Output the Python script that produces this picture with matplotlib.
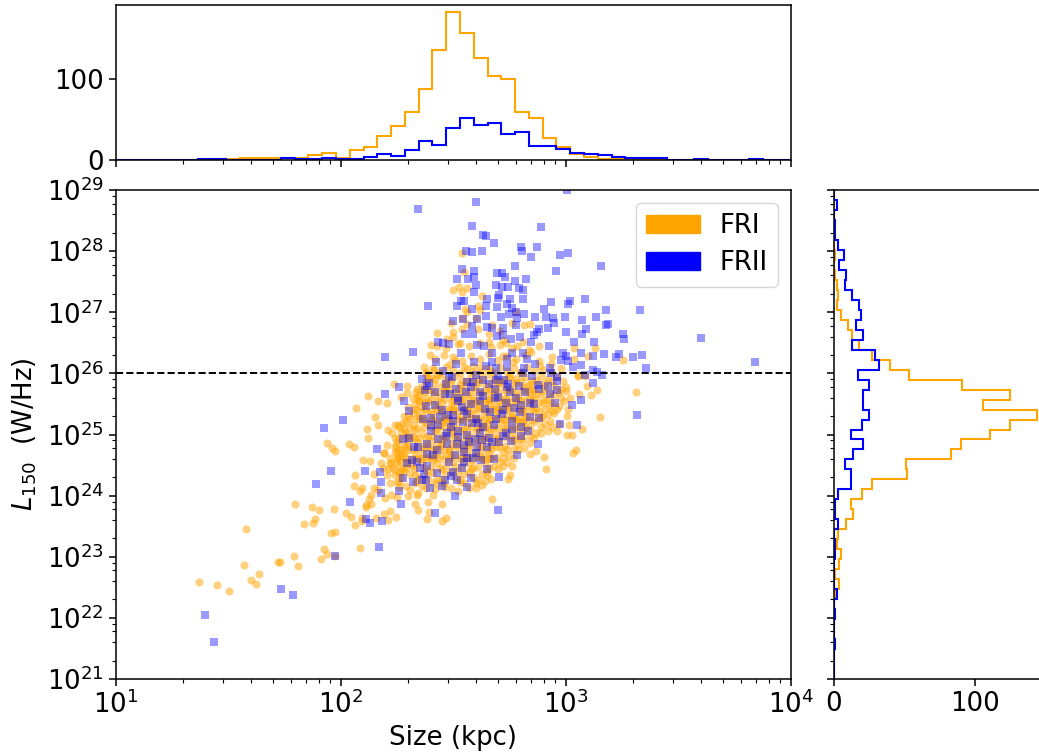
import numpy as np
import matplotlib
matplotlib.use("Agg")
import matplotlib.pyplot as plt
from matplotlib.ticker import LogLocator, NullFormatter

# histogram counts, 49 log bins over each axis
size_counts_fri = [0,0,0,0,0,0,0,1,1,3,2,2,2,3,6,9,3,12,16,29,42,59,87,136,182,157,126,104,100,59,52,27,16,8,4,1,1,1,1,0,0,0,0,0,0,0,0,0,0]
size_counts_frii = [0,0,0,0,0,0,1,1,0,0,0,0,2,1,1,3,1,1,4,8,5,12,24,19,40,52,43,45,32,35,17,17,14,9,7,6,4,3,3,3,0,0,1,0,0,0,1,0,0]

# listed from 1e29 down to 1e21
lum_counts_fri = [0,0,0,0,0,0,1,0,1,2,3,2,5,10,13,18,27,40,53,91,125,106,144,125,111,90,83,51,52,27,20,12,14,9,3,2,5,4,1,4,1,0,0,0,0,0,0,0,0]
lum_counts_frii = [0,2,0,1,1,3,7,4,9,8,13,18,19,16,21,13,29,32,17,25,21,21,25,20,12,21,14,8,12,12,3,1,1,3,0,1,1,0,0,0,2,0,1,0,0,1,0,0,0]

# log10(size/kpc), log10(L150)
fri_tail = [(1.372,22.58),(1.451,22.54),(1.506,22.44),(1.580,23.45),(1.571,22.87),(1.602,22.62),(1.626,22.55),(1.638,22.72),(1.721,22.92),(1.732,22.91),(1.795,23.02),(1.809,22.85),(1.798,23.87),(1.873,23.82),(1.903,23.77),(1.969,23.78),(1.839,23.53),(1.879,23.56),(1.885,23.61),(1.956,23.39),(1.977,23.40),(1.925,23.13),(1.940,23.05),(1.915,22.97),(1.974,23.01),(2.088,23.14),(2.023,23.72),(2.048,23.65),(2.063,23.52),(2.094,23.58),(2.094,23.64),(2.158,23.64),(2.192,23.70),(2.211,23.60),(2.220,23.75),(2.246,23.65),(2.115,23.81),(2.112,23.85),(2.137,23.86),(2.126,23.94),(2.135,24.01),(2.085,24.07),(2.094,24.13),(2.058,24.16),(2.066,24.33),(2.149,24.35),(2.147,24.13),(2.168,24.09),(2.198,23.96),(2.224,24.01),(2.249,23.98),(2.100,24.58),(2.131,24.56),(2.180,24.53),(2.226,24.53),(2.208,24.83),(2.245,24.83),(2.193,24.69),(2.192,24.70),(2.249,24.69),(2.254,24.61),(2.036,24.85),(2.061,24.80),(1.940,24.86),(1.961,24.78),(1.977,24.73),(2.123,24.95),(2.116,25.09),(2.166,25.16),(2.155,25.29),(2.067,25.44),(2.166,25.54),(2.206,25.52),(2.212,25.07),(2.230,25.02),(2.241,25.15),(2.257,25.15),(2.279,25.19),(2.286,25.04),(2.187,24.45),(2.212,24.43),(2.205,24.34),(2.220,24.20),(2.264,24.39),(2.279,24.45)]

fri_upper = [(2.538,27.97),(2.548,27.66),(2.501,27.36),(2.527,27.41),(2.538,27.33),(2.560,27.39),(2.630,27.27),(2.612,27.11),(2.553,27.06),(2.560,27.01),(2.619,27.04),(2.779,27.01),(2.490,26.83),(2.538,26.90),(2.604,26.90),(2.675,26.79),(2.816,26.79),(2.843,26.81),(2.541,26.72),(2.428,26.66),(2.501,26.60),(2.471,26.57),(2.400,26.46),(2.430,26.45),(2.397,26.30),(2.530,26.49),(2.659,26.51),(2.723,26.55),(2.733,26.50),(2.785,26.45),(2.837,26.38),(2.846,26.35),(3.038,26.41),(3.132,26.41),(3.098,26.28),(3.038,26.24),(3.256,26.22),(2.372,26.10),(2.416,26.05),(2.486,26.16),(2.508,26.22),(2.548,26.11),(2.723,26.28),(2.767,26.19),(2.886,26.12),(2.936,26.15),(2.379,25.99),(2.427,25.97),(2.590,26.03),(2.619,26.11),(2.664,26.05),(2.753,25.94),(2.797,26.01),(3.056,25.97),(3.086,25.96),
    (2.38,26.03),(2.41,26.08),(2.44,26.02),(2.47,26.10),(2.50,26.05),(2.53,26.00),(2.56,26.07),(2.59,26.12),(2.62,26.02),(2.65,26.09),(2.68,26.03),(2.71,26.11),(2.74,26.04),(2.77,26.08),(2.80,26.02),(2.83,26.10),(2.86,26.04),(2.90,26.06),(2.94,26.02),(2.98,26.08),
    (2.42,26.24),(2.46,26.30),(2.50,26.26),(2.54,26.21),(2.58,26.29),(2.62,26.23),(2.66,26.31),(2.70,26.22),(2.74,26.28),(2.78,26.24),(2.82,26.30),(2.88,26.21),(2.94,26.27),
    (2.47,26.42),(2.52,26.48),(2.57,26.44),(2.62,26.50),(2.67,26.43),(2.71,26.47),(2.76,26.42),(2.81,26.52),(2.88,26.45),
    (2.50,26.68),(2.56,26.80),(2.61,26.72),(2.66,26.65),(2.71,26.70),(2.76,26.83)]

fri_edge = [(2.237,25.82),(2.293,25.79),(2.121,25.63),(2.267,25.62),(2.293,25.68),(2.333,25.69),(2.338,25.62),(2.264,24.58),(2.299,23.99),(2.345,24.05),(2.338,24.01),(2.410,24.01),(2.390,23.90),(2.450,23.87),(2.330,23.87),(2.345,23.77),(2.394,23.74),(2.470,23.64),(2.449,23.59),(2.382,23.62),(2.674,23.94),(2.643,24.24),(2.754,24.33),(2.742,24.27),(2.761,24.48),(2.723,24.48),(2.911,24.44),(2.904,24.64),(3.031,24.70),(3.046,24.74),(2.841,24.68),(2.870,24.73),(2.815,24.78),(3.154,25.28),(3.311,25.69),(3.113,25.64),(3.139,25.73),(3.095,25.80),(3.061,25.66),(3.053,25.96),(3.004,25.71),(2.991,25.54),(3.009,25.42),(3.007,25.31),(2.938,25.39),(2.921,25.05),(2.960,25.06),(2.972,25.17),(3.007,24.99),(3.030,24.99),(3.016,25.15),(3.071,25.09)]

# the solid orange blob, individual points can't be separated there so these are estimates
fri_core = [(2.40,25.93),(2.44,25.98),(2.47,25.91),(2.51,25.96),(2.54,25.89),(2.58,25.95),(2.61,25.90),(2.65,25.97),(2.68,25.92),(2.71,25.88),(2.75,25.96),(2.78,25.90),(2.82,25.94),(2.85,25.87),(2.89,25.95),(2.92,25.90),
    (2.36,25.80),(2.39,25.75),(2.42,25.83),(2.45,25.78),(2.49,25.84),(2.52,25.76),(2.55,25.81),(2.59,25.77),(2.62,25.84),(2.65,25.79),(2.69,25.74),(2.72,25.82),(2.75,25.76),(2.78,25.85),(2.81,25.78),(2.85,25.74),(2.88,25.83),(2.91,25.77),(2.95,25.80),(2.98,25.74),
    (2.35,25.64),(2.38,25.60),(2.41,25.67),(2.44,25.61),(2.47,25.69),(2.50,25.63),(2.53,25.58),(2.56,25.66),(2.59,25.61),(2.62,25.68),(2.65,25.57),(2.68,25.65),(2.71,25.60),(2.74,25.68),(2.77,25.62),(2.80,25.57),(2.83,25.66),(2.86,25.60),(2.89,25.67),(2.92,25.58),(2.95,25.64),
    (2.33,25.50),(2.36,25.45),(2.39,25.53),(2.42,25.47),(2.45,25.52),(2.48,25.44),(2.51,25.49),(2.54,25.53),(2.57,25.46),(2.60,25.51),(2.63,25.43),(2.66,25.50),(2.69,25.46),(2.72,25.53),(2.75,25.45),(2.78,25.51),(2.81,25.43),(2.84,25.49),(2.87,25.44),(2.90,25.51),(2.93,25.46),(2.96,25.41),
    (2.32,25.35),(2.35,25.31),(2.38,25.38),(2.41,25.33),(2.44,25.37),(2.47,25.29),(2.50,25.36),(2.53,25.30),(2.56,25.38),(2.59,25.33),(2.62,25.28),(2.65,25.35),(2.68,25.30),(2.71,25.38),(2.74,25.32),(2.77,25.27),(2.80,25.35),(2.83,25.30),(2.86,25.36),(2.89,25.29),(2.92,25.34),
    (2.29,25.20),(2.32,25.16),(2.35,25.23),(2.38,25.18),(2.41,25.22),(2.44,25.14),(2.47,25.20),(2.50,25.16),(2.53,25.23),(2.56,25.13),(2.59,25.21),(2.62,25.15),(2.65,25.19),(2.68,25.13),(2.71,25.21),(2.74,25.16),(2.77,25.12),(2.80,25.20),(2.83,25.15),(2.86,25.21),(2.89,25.13),
    (2.27,25.04),(2.30,25.00),(2.33,25.07),(2.36,25.02),(2.39,24.98),(2.42,25.05),(2.45,25.00),(2.48,25.07),(2.51,24.99),(2.54,25.05),(2.57,25.00),(2.60,25.06),(2.63,24.98),(2.66,25.04),(2.69,24.99),(2.72,25.06),(2.75,25.00),(2.78,24.97),(2.81,25.04),(2.84,24.98),(2.87,25.03),
    (2.25,24.90),(2.28,24.85),(2.31,24.92),(2.34,24.87),(2.37,24.83),(2.40,24.90),(2.43,24.85),(2.46,24.91),(2.49,24.84),(2.52,24.89),(2.55,24.82),(2.58,24.88),(2.61,24.84),(2.64,24.91),(2.67,24.83),(2.70,24.88),(2.73,24.82),(2.76,24.89),(2.79,24.84),
    (2.24,24.72),(2.27,24.67),(2.30,24.74),(2.33,24.68),(2.36,24.72),(2.39,24.65),(2.42,24.71),(2.45,24.66),(2.48,24.73),(2.51,24.67),(2.54,24.71),(2.57,24.65),(2.60,24.72),(2.63,24.66),(2.66,24.70),(2.69,24.64),(2.72,24.71),(2.75,24.66),
    (2.22,24.53),(2.26,24.48),(2.29,24.55),(2.32,24.49),(2.36,24.53),(2.40,24.47),(2.43,24.54),(2.47,24.49),(2.50,24.55),(2.54,24.48),(2.57,24.53),(2.61,24.47),(2.64,24.54),(2.68,24.49),(2.71,24.55),
    (2.24,24.34),(2.27,24.29),(2.31,24.36),(2.35,24.30),(2.39,24.34),(2.43,24.28),(2.47,24.35),(2.51,24.30),(2.55,24.36),(2.59,24.30),(2.63,24.35),(2.67,24.28),
    (2.26,24.14),(2.31,24.09),(2.36,24.15),(2.42,24.11),(2.46,24.14),(2.52,24.08),(2.57,24.13),
    (2.46,25.72),(2.50,25.57),(2.55,25.42),(2.60,25.25),(2.64,25.72),(2.68,25.42),(2.72,25.26),(2.76,25.72),(2.80,25.42),(2.84,25.58),(2.48,25.27),(2.52,25.10),(2.58,25.56),(2.62,25.11),(2.66,25.58),(2.70,25.10),(2.74,25.56),(2.78,25.26),(2.82,25.10),(2.86,25.72),(2.44,25.43),(2.40,25.12),(2.36,25.28),(2.42,24.76),(2.38,24.95),(2.34,24.78),(2.46,24.77),(2.50,24.95),(2.55,24.76),(2.60,24.95),(2.65,24.77),(2.70,24.95),(2.74,24.76),(2.30,24.60),(2.35,24.60),(2.41,24.58),(2.46,24.60),(2.53,24.60),(2.59,24.58),(2.65,24.60)]

# second pass over the blob so it comes out solid like the reference
fri_core2 = [(2.38,25.88),(2.42,25.90),(2.46,25.85),(2.49,25.89),(2.53,25.83),(2.56,25.88),(2.60,25.85),(2.63,25.90),(2.67,25.84),(2.70,25.87),(2.73,25.91),(2.77,25.84),(2.80,25.88),(2.84,25.83),(2.87,25.89),(2.91,25.85),(2.94,25.87),
    (2.37,25.70),(2.40,25.73),(2.43,25.69),(2.48,25.74),(2.51,25.70),(2.54,25.73),(2.57,25.69),(2.60,25.72),(2.63,25.68),(2.67,25.73),(2.70,25.69),(2.73,25.72),(2.78,25.70),(2.81,25.73),(2.84,25.69),(2.87,25.66),(2.90,25.71),(2.93,25.68),(2.97,25.70),
    (2.35,25.55),(2.37,25.53),(2.40,25.57),(2.43,25.54),(2.46,25.58),(2.49,25.54),(2.52,25.55),(2.55,25.58),(2.58,25.52),(2.61,25.56),(2.64,25.53),(2.67,25.57),(2.70,25.54),(2.73,25.58),(2.76,25.53),(2.79,25.56),(2.82,25.54),(2.85,25.55),(2.88,25.53),(2.91,25.56),(2.94,25.52),
    (2.34,25.40),(2.37,25.42),(2.40,25.38),(2.43,25.41),(2.46,25.39),(2.49,25.42),(2.52,25.39),(2.55,25.41),(2.58,25.38),(2.61,25.42),(2.64,25.39),(2.67,25.41),(2.70,25.38),(2.73,25.42),(2.76,25.39),(2.79,25.41),(2.82,25.38),(2.85,25.41),(2.88,25.38),(2.91,25.41),
    (2.31,25.25),(2.34,25.27),(2.37,25.23),(2.40,25.26),(2.43,25.24),(2.46,25.26),(2.49,25.23),(2.52,25.26),(2.55,25.24),(2.58,25.27),(2.61,25.23),(2.64,25.26),(2.67,25.24),(2.70,25.27),(2.73,25.23),(2.76,25.26),(2.79,25.24),(2.82,25.27),(2.85,25.24),(2.88,25.25),
    (2.28,25.09),(2.31,25.11),(2.34,25.10),(2.37,25.12),(2.43,25.09),(2.46,25.12),(2.49,25.10),(2.55,25.09),(2.58,25.12),(2.61,25.09),(2.64,25.11),(2.67,25.09),(2.73,25.11),(2.76,25.08),(2.79,25.11),(2.84,25.09),
    (2.26,24.94),(2.29,24.96),(2.32,24.98),(2.35,24.94),(2.41,24.97),(2.44,24.93),(2.47,24.96),(2.53,24.94),(2.56,24.96),(2.62,24.93),(2.65,24.96),(2.68,24.93),(2.73,24.96),(2.77,24.93),(2.80,24.95),
    (2.26,24.77),(2.29,24.80),(2.32,24.76),(2.37,24.78),(2.40,24.76),(2.44,24.79),(2.48,24.77),(2.52,24.79),(2.57,24.77),(2.62,24.78),(2.67,24.76),(2.71,24.79),(2.77,24.76),
    (2.25,24.61),(2.28,24.63),(2.32,24.60),(2.38,24.61),(2.43,24.62),(2.49,24.63),(2.56,24.61),(2.62,24.63),(2.67,24.61),(2.72,24.62),
    (2.24,24.42),(2.28,24.40),(2.33,24.43),(2.38,24.41),(2.45,24.42),(2.52,24.41),(2.58,24.43),(2.65,24.41),(2.70,24.43),
    (2.26,24.22),(2.33,24.20),(2.40,24.23),(2.46,24.21),(2.53,24.22),(2.60,24.20),
    (2.47,25.80),(2.53,25.66),(2.58,25.86),(2.62,25.53),(2.66,25.68),(2.70,25.83),(2.74,25.47),(2.79,25.63),(2.83,25.79),(2.50,25.41),(2.56,25.29),(2.61,25.44),(2.66,25.25),(2.71,25.45),(2.76,25.31),(2.81,25.22),(2.45,25.22),(2.50,25.04),(2.56,24.90),(2.64,25.14)]

# lower half and flanks of the blob
fri_core3 = [(2.24,24.80),(2.27,24.75),(2.30,24.83),(2.33,24.95),(2.36,24.62),(2.39,24.82),(2.42,24.65),(2.45,24.85),(2.48,24.68),(2.51,24.82),(2.54,24.62),(2.57,24.83),(2.60,24.65),(2.63,24.82),(2.66,24.62),(2.69,24.80),
    (2.22,24.62),(2.25,24.55),(2.28,24.70),(2.31,24.52),(2.34,24.62),(2.37,24.45),(2.40,24.62),(2.44,24.45),(2.48,24.60),(2.51,24.47),(2.55,24.62),(2.59,24.45),(2.63,24.60),(2.66,24.46),
    (2.23,24.45),(2.26,24.35),(2.29,24.45),(2.33,24.34),(2.37,24.25),(2.41,24.38),(2.45,24.28),(2.49,24.38),(2.53,24.28),(2.57,24.38),(2.61,24.26),(2.65,24.33),
    (2.25,24.22),(2.29,24.15),(2.34,24.24),(2.38,24.12),(2.43,24.20),(2.49,24.12),(2.55,24.20),(2.60,24.12),(2.63,24.18),
    (2.90,25.30),(2.93,25.22),(2.95,25.35),(2.97,25.47),(2.98,25.60),(3.00,25.78),(3.02,25.60),(2.99,25.88),(2.96,25.95),(2.94,25.12),(2.91,25.17),(2.89,25.02),(2.86,24.95),(2.84,24.86),(2.81,24.91),(2.79,24.74),(2.77,24.62),(2.74,24.55),(2.30,25.30),(2.33,25.42),(2.35,25.55),(2.32,25.60),(2.30,25.45),(2.28,25.30),(2.26,25.12),(2.24,24.95),(2.36,25.72),(2.34,25.74),(2.39,25.92)]

frii_tail = [(1.398,22.05),(1.439,21.60),(1.735,22.48),(1.790,22.37),(1.974,23.01),(2.042,23.89),(2.115,23.61),(2.129,23.56),(2.183,23.59),(2.172,23.16),(1.891,24.19),(1.956,24.40),(2.109,24.41),(1.925,25.11),(2.012,25.24),(2.162,24.77),(2.177,24.38),(2.181,24.23),(2.181,24.04),(2.276,24.29),(2.258,24.08),(2.269,23.87),(2.278,24.93),(2.303,24.95),(2.297,24.53),(3.84,26.18),(3.60,26.58)]

frii_upper = [(2.342,28.69),(2.604,28.81),(3.006,29.00),(2.585,28.41),(2.890,28.40),(2.634,28.27),(2.646,28.24),(2.683,28.13),(2.558,28.00),(2.582,27.99),(2.627,28.00),(2.801,28.06),(2.807,28.01),(2.874,28.06),(2.847,27.90),(2.973,27.94),(3.010,27.97),(2.775,27.76),(2.958,27.67),(3.157,27.76),(2.538,27.71),(2.594,27.67),(2.695,27.64),(2.718,27.65),(2.732,27.57),(2.591,27.57),(2.567,27.55),(2.518,27.55),(2.604,27.45),(2.773,27.51),(2.824,27.54),(2.689,27.45),(2.717,27.41),(2.745,27.41),(2.791,27.39),(2.812,27.37),(2.591,27.33),(2.705,27.28),(2.701,27.23),(2.650,27.22),(2.753,27.21),(2.810,27.22),(2.550,27.18),(2.535,27.18),(2.518,27.10),(2.387,27.11),(2.696,27.09),(2.738,27.13),(2.646,27.10),(2.763,27.07),(2.933,27.16),(3.012,27.13),(3.021,27.18),(3.086,27.22),(2.902,27.05),(2.778,27.01),(2.816,26.97),(2.750,26.97),(2.585,27.06),(2.911,26.93),(2.864,26.92),(2.944,26.90),(2.997,26.93),(3.074,26.87),(3.136,26.92),(3.178,27.03),(3.332,27.04),(2.646,26.94),(2.713,26.93),(2.782,26.90),(2.607,26.89),(2.545,26.89),(2.501,26.86),(2.950,26.83),(3.190,26.81),(3.179,26.79),(3.089,26.73),(3.071,26.65),(2.924,26.74),(3.000,26.67),(2.883,26.72),(2.871,26.67),(2.858,26.62),(2.847,26.52),(2.723,26.75),(2.652,26.76),(2.675,26.75),(2.582,26.77),(2.778,26.79),(2.693,26.61),(2.757,26.57),(2.720,26.62),(2.798,26.60),(2.590,26.64),(2.551,26.65),(3.256,26.64),(3.261,26.56),(3.126,26.52),(3.038,26.51),(2.927,26.44),(2.434,26.51),(2.456,26.50),(2.480,26.48),(2.535,26.34),(2.607,26.46),(2.637,26.44),(2.675,26.34),(2.760,26.33),(2.810,26.34),(2.987,26.34),(3.003,26.29),(3.067,26.33),(3.170,26.32),(3.238,26.31),(3.224,26.27),(3.298,26.27),(3.339,26.30),(3.123,26.29),(2.198,26.27),(2.320,26.35),(2.425,26.18),(2.511,26.16),(2.591,26.19),(2.738,26.24),(2.675,26.18),(2.646,26.12),(2.827,26.23),(2.865,26.15),(2.816,26.08),(2.930,26.09),(2.978,26.22),(3.010,26.21),(3.034,26.11),(3.067,26.14),(3.120,26.05),(3.141,26.02),(3.163,25.98),(3.356,26.09),(2.363,25.90),(2.453,26.04),(2.496,25.94),(2.690,26.08),(2.741,26.11),(2.933,26.01),(2.960,25.94)]

frii_core = [(2.261,25.78),(2.196,25.66),(2.394,25.85),(2.382,25.79),(2.375,25.73),(2.464,25.66),(2.486,25.66),(2.511,25.74),(2.557,25.70),(2.560,25.86),(2.590,25.86),(2.634,25.89),(2.689,25.89),(2.726,25.89),(2.745,25.82),(2.793,25.79),(2.812,26.00),(2.876,25.81),(2.883,25.74),(2.930,25.67),(2.963,25.87),(3.086,25.97),(3.123,25.85),(3.068,25.57),(3.030,25.49),(2.953,25.52),(2.283,25.54),(2.302,25.39),(2.378,25.46),(2.418,25.48),(2.367,25.25),(2.404,25.27),(2.404,25.15),(2.404,25.06),(2.434,25.15),(2.441,25.29),(2.478,25.32),(2.501,25.32),(2.523,25.54),(2.538,25.45),(2.564,25.33),(2.579,25.50),(2.634,25.63),(2.619,25.70),(2.686,25.75),(2.686,25.59),(2.753,25.69),(2.733,25.52),(2.772,25.43),(2.804,25.48),(2.797,25.37),(2.843,25.52),(2.843,25.29),(2.884,25.27),(2.975,25.17),(3.052,25.15),(2.665,25.36),(2.717,25.33),(2.690,25.26),(2.542,25.20),(2.585,25.18),(2.612,25.18),(2.634,25.12),(2.490,25.13),(2.471,25.03),(2.523,24.96),(2.564,25.00),(2.834,25.06),(2.803,24.98),(2.736,25.03),(2.763,25.09),(2.597,24.92),(2.627,24.91),(2.671,24.88),(2.705,24.88),(2.757,24.89),(2.876,24.84),(2.434,24.92),(2.471,24.85),(2.516,24.85),(2.382,24.85),(2.326,24.80),(2.345,24.79),(2.550,24.83),(2.607,24.80),(2.652,24.80),(2.382,24.68),(2.412,24.66),(2.508,24.66),(2.548,24.72),(2.560,24.62),(2.590,24.62),(2.622,24.58),(2.782,24.67),(2.316,24.59),(2.341,24.55),(2.385,24.48),(2.353,24.45),(2.427,24.37),(2.538,24.45),(2.652,24.43),(2.320,24.23),(2.360,24.25),(2.379,24.25),(2.464,24.26),(2.489,24.32),(2.516,24.26),(2.579,24.29),(2.705,24.30),(2.397,24.13),(2.560,24.14),(2.510,24.00),(2.418,23.72),(2.699,23.77),(3.317,25.32),
    (2.42,25.70),(2.47,25.82),(2.52,25.60),(2.58,25.78),(2.62,25.55),(2.66,25.83),(2.70,25.62),(2.74,25.78),(2.78,25.60),(2.82,25.70),(2.86,25.50),(2.45,25.40),(2.50,25.22),(2.55,25.38),(2.60,25.25),(2.64,25.42),(2.68,25.15),(2.72,25.40),(2.76,25.22),(2.80,25.12),(2.47,24.98),(2.43,24.75),(2.52,25.05),(2.57,24.88),(2.62,25.02),(2.66,24.95),(2.72,24.98),(2.48,24.55),(2.55,24.55),(2.60,24.70),(2.68,24.60),(2.50,24.38),(2.37,24.35),(2.45,24.15),(2.70,25.95),(2.60,25.97),(2.48,25.95),(2.85,25.95),(2.92,25.80),(2.96,25.72)]

W, H = 1039, 754
left, right = 115.6, 790.6
hist_x0, hist_x1 = 833.7, 1047.0
main_top, main_bottom = 190, 679
top_top, top_bottom = 5, 160


def px_axes(x0, x1, y_top, y_bottom, **kw):
    return fig.add_axes([x0 / W, 1 - y_bottom / H, (x1 - x0) / W, (y_bottom - y_top) / H], **kw)


def style_log_ticks(axis, subs):
    axis.set_major_locator(LogLocator(base=10, numticks=12))
    axis.set_minor_locator(LogLocator(base=10, subs=subs, numticks=12))
    axis.set_minor_formatter(NullFormatter())


plt.rcParams['font.size'] = 18.7
plt.rcParams['axes.linewidth'] = 1.1
plt.rcParams['xtick.major.width'] = 1.1
plt.rcParams['ytick.major.width'] = 1.1
plt.rcParams['xtick.minor.width'] = 0.8
plt.rcParams['ytick.minor.width'] = 0.8
plt.rcParams['xtick.major.size'] = 4.8
plt.rcParams['ytick.major.size'] = 4.8
plt.rcParams['xtick.minor.size'] = 2.8
plt.rcParams['ytick.minor.size'] = 2.8

fig = plt.figure(figsize=(W / 100, H / 100), dpi=100)
ax = px_axes(left, right, main_top, main_bottom)
ax_top = px_axes(left, right, top_top, top_bottom)
ax_right = px_axes(hist_x0, hist_x1, main_top, main_bottom)

fri = np.array(fri_tail + fri_upper + fri_edge + fri_core + fri_core2 + fri_core3)
frii = np.array(frii_tail + frii_upper + frii_core)

ax.scatter(10 ** fri[:, 0], 10 ** fri[:, 1], s=34, c='orange', marker='o', alpha=0.5, linewidths=0)
ax.scatter(10 ** frii[:, 0], 10 ** frii[:, 1], s=28, c='blue', marker='s', alpha=0.4, linewidths=0)
ax.axhline(1e26, color='k', ls='--', lw=1.4)
ax.set_xscale('log')
ax.set_yscale('log')
ax.set_xlim(1e1, 1e4)
ax.set_ylim(1e21, 1e29)
style_log_ticks(ax.xaxis, np.arange(2, 10))
style_log_ticks(ax.yaxis, [2, 4, 6, 8])
ax.set_xlabel('Size (kpc)', labelpad=4)
ax.set_ylabel(r'$L_{150}$  (W/Hz)', labelpad=5.5)

# same colours as the scatter but solid, the legend uses patches
ax.legend(handles=[plt.Rectangle((0, 0), 1, 1, color='orange', label='FRI'),
                   plt.Rectangle((0, 0), 1, 1, color='blue', label='FRII')],
          loc='upper right', fontsize=18.7, handlelength=2.05, handletextpad=0.75,
          borderaxespad=0.5, labelspacing=0.42, borderpad=0.4)

size_edges = np.logspace(1, 4, 50)
ax_top.stairs(size_counts_fri, size_edges, color='orange', lw=1.5)
ax_top.stairs(size_counts_frii, size_edges, color='blue', lw=1.5)
ax_top.set_xscale('log')
ax_top.set_xlim(1e1, 1e4)
ax_top.set_ylim(0, 191)
ax_top.set_yticks([0, 100])
style_log_ticks(ax_top.xaxis, np.arange(2, 10))
ax_top.tick_params(axis='x', which='both', labelbottom=False)

lum_edges = np.logspace(21, 29, 50)
ax_right.stairs(lum_counts_fri[::-1], lum_edges, orientation='horizontal', color='orange', lw=1.5)
ax_right.stairs(lum_counts_frii[::-1], lum_edges, orientation='horizontal', color='blue', lw=1.5)
ax_right.set_yscale('log')
ax_right.set_ylim(1e21, 1e29)
ax_right.set_xlim(0, 151)
ax_right.set_xticks([0, 100])
style_log_ticks(ax_right.yaxis, [2, 4, 6, 8])
ax_right.tick_params(axis='y', which='both', labelleft=False)

fig.savefig('out.png', dpi=100)
